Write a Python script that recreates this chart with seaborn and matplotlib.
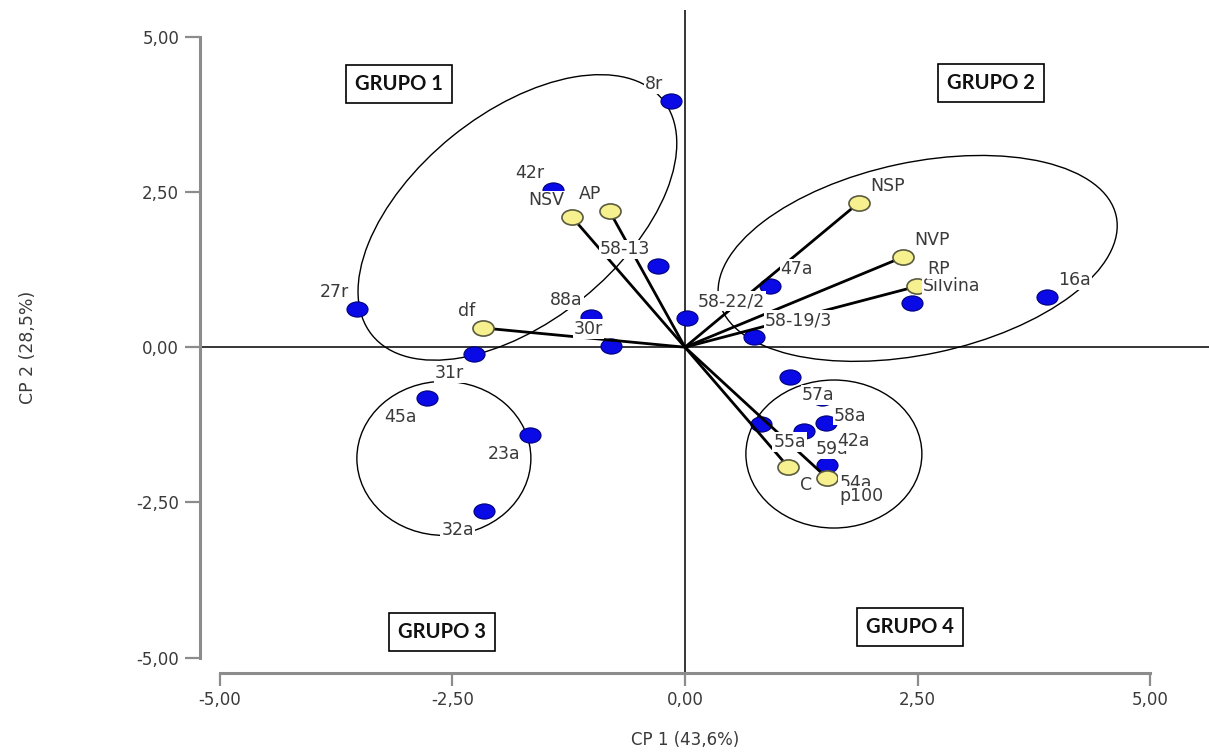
import matplotlib
matplotlib.use("Agg")
import numpy as np
import pandas as pd
import matplotlib.pyplot as plt
import seaborn as sns
from matplotlib.path import Path
from matplotlib.patches import Ellipse
from matplotlib.transforms import Affine2D

# genotypes (blue points)
geno_names = ["8r", "42r", "27r", "31r", "88a", "30r", "58-13", "58-22/2", "58-19/3",
              "47a", "Silvina", "16a", "57a", "58a", "55a", "59a", "42a", "54a",
              "45a", "23a", "32a"]
geno_cp1 = [-0.15, -1.42, -3.52, -2.27, -1.01, -0.79, -0.29, 0.02, 0.74,
            0.91, 2.44, 3.89, 1.13, 1.47, 0.82, 1.28, 1.51, 1.53,
            -2.77, -1.66, -2.16]
geno_cp2 = [3.96, 2.53, 0.61, -0.11, 0.48, 0.02, 1.30, 0.47, 0.16,
            0.98, 0.71, 0.81, -0.48, -0.81, -1.24, -1.35, -1.22, -1.90,
            -0.81, -1.42, -2.64]

# variables (yellow points + vectors)
var_names = ["NSV", "AP", "df", "NSP", "NVP", "RP", "C", "p100"]
var_cp1 = [-1.21, -0.81, -2.17, 1.87, 2.34, 2.49, 1.11, 1.53]
var_cp2 = [2.09, 2.19, 0.31, 2.33, 1.45, 0.98, -1.93, -2.11]

tick_values = [-5.0, -2.5, 0.0, 2.5, 5.0]
tick_labels = ["-5,00", "-2,50", "0,00", "2,50", "5,00"]

group_names = ["GRUPO 1", "GRUPO 2", "GRUPO 3", "GRUPO 4"]

# label placement (corner relative to the point)
geno_place = ["ul", "ul", "ul", "ll", "ul", "ul", "ul", "ur", "ur",
              "ur", "ur", "ur", "lr", "lr", "lr", "lr", "lr", "lr",
              "ll", "ll", "ll"]
var_place = ["ul", "ul", "ul", "ur", "ur", "ur", "lr", "lr"]

geno = pd.DataFrame({"name": geno_names, "cp1": geno_cp1, "cp2": geno_cp2})
var = pd.DataFrame({"name": var_names, "cp1": var_cp1, "cp2": var_cp2})

sns.set_theme(style="white")
plt.rcParams["font.family"] = ["DejaVu Sans"]

W, H = 1209, 753
fig = plt.figure(figsize=(W / 100, H / 100), dpi=100)
ax = fig.add_axes([200 / W, 1 - 672 / H, 1009 / W, 662 / H])
xlim = (-5.21, 5.63)
ylim = (-5.23, 5.43)
ax.set_xlim(*xlim)
ax.set_ylim(*ylim)
sx = 1009 / (xlim[1] - xlim[0])   # px per unit
sy = 662 / (ylim[1] - ylim[0])

# slightly wide oval marker (the original image is stretched)
circ = Path.unit_circle()
oval = Path(circ.vertices * np.array([1.0, 0.72]), circ.codes)

# reference lines through the origin
ax.axhline(0, color="black", lw=1.1, zorder=1)
ax.axvline(0, color="black", lw=1.1, zorder=1)

# group ellipses: center (data), semi-axes (px), angle (deg, display)
ell_center = [(-1.80, 2.09), (2.50, 1.43), (-2.59, -1.79), (1.60, -1.72)]
ell_axes = [(187, 104), (203, 96), (87, 77), (88, 74)]
ell_angle = [39, 12, 0, 0]
for (cx, cy), (a, b), ang in zip(ell_center, ell_axes, ell_angle):
    tr = Affine2D().scale(1 / sx, 1 / sy).translate(cx, cy) + ax.transData
    ax.add_patch(Ellipse((0, 0), 2 * a, 2 * b, angle=ang, transform=tr,
                         fill=False, ec="black", lw=1.0, zorder=1.5))

sns.scatterplot(data=geno, x="cp1", y="cp2", marker=oval, s=230,
                color="#0a0ae6", edgecolor="#00007a", linewidth=0.8,
                legend=False, ax=ax, zorder=2)

# loading vectors
for x, y in zip(var["cp1"], var["cp2"]):
    ax.plot([0, x], [0, y], color="black", lw=2.0, zorder=3,
            solid_capstyle="butt")

sns.scatterplot(data=var, x="cp1", y="cp2", marker=oval, s=230,
                color="#f7f08e", edgecolor="#5a5a40", linewidth=1.2,
                legend=False, ax=ax, zorder=4)

offsets = {"ul": ((-8, 8), "right", "bottom"),
           "ur": ((11, 8), "left", "bottom"),
           "lr": ((12, -9), "left", "top"),
           "ll": ((-10, -10), "right", "top")}


def put_labels(df, places):
    for (_, r), p in zip(df.iterrows(), places):
        (dx, dy), ha, va = offsets[p]
        ax.annotate(r["name"], (r["cp1"], r["cp2"]), xytext=(dx, dy),
                    textcoords="offset pixels", ha=ha, va=va, fontsize=12.5,
                    color="#3a3a3a", zorder=5,
                    bbox=dict(boxstyle="square,pad=0.05", fc="white", ec="none"))


put_labels(geno, geno_place)
put_labels(var, var_place)

# group boxes
group_x = [-3.07, 3.29, -2.61, 2.42]
group_y = [4.24, 4.25, -4.59, -4.51]
for name, gx, gy in zip(group_names, group_x, group_y):
    ax.text(gx, gy, name, ha="center", va="center", fontsize=14.5,
            fontweight="bold", family=["Lato", "DejaVu Sans"], color="#111111",
            zorder=6,
            bbox=dict(boxstyle="square,pad=0.45", fc="white", ec="black", lw=1.2))

# axes styling (SPSS look)
for side in ["top", "right"]:
    ax.spines[side].set_visible(False)
for side in ["left", "bottom"]:
    ax.spines[side].set_color("#8c8c8c")
    ax.spines[side].set_linewidth(2.2)
    ax.spines[side].set_bounds(-5, 5)
ax.spines["bottom"].set_position(("outward", 1))

ax.set_xticks(tick_values)
ax.set_xticklabels(tick_labels)
ax.set_yticks(tick_values)
ax.set_yticklabels(tick_labels)
ax.tick_params(axis="both", direction="out", length=11, width=1.6,
               color="#8c8c8c", labelsize=12, labelcolor="#3a3a3a", pad=4)
ax.tick_params(axis="x", bottom=True, length=9)
ax.tick_params(axis="y", left=True)
ax.grid(False)

ax.set_xlabel("CP 1 (43,6%)", fontsize=12, color="#3a3a3a")
ax.xaxis.set_label_coords((685 - 200) / 1009, -(740 - 672) / 662)
ax.xaxis.label.set_va("center")
ax.set_ylabel("CP 2 (28,5%)", fontsize=12.5, color="#3a3a3a",
              family=["Liberation Sans Narrow", "DejaVu Sans"])
ax.yaxis.set_label_coords(-(200 - 28) / 1009, (672 - 347) / 662)
ax.yaxis.label.set_va("center")

fig.savefig("out.png", dpi=100, facecolor="white")
